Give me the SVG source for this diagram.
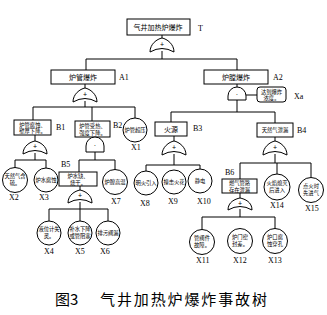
<svg xmlns="http://www.w3.org/2000/svg" width="327" height="315" viewBox="0 0 327 315">
<style>
.bx{fill:#fff;stroke:#000;stroke-width:1}
.g{fill:#fff;stroke:#000;stroke-width:1}
.c{fill:#fff;stroke:#000;stroke-width:1}
.t{font-family:"Noto Sans CJK SC","Noto Sans",sans-serif;font-size:7px;text-anchor:middle;fill:#000}
.s{font-family:"Noto Sans CJK SC","Noto Sans",sans-serif;font-size:5.3px;text-anchor:middle;fill:#000}
.l{font-family:"Liberation Serif",serif;font-size:8px;fill:#000}
.gs{font-family:"Liberation Sans",sans-serif;font-size:7px;text-anchor:middle;fill:#000}
.cap{font-family:"Noto Sans CJK SC",sans-serif;font-size:15px;fill:#000}
#conn line{stroke:#000;stroke-width:1}
</style>
<rect width="327" height="315" fill="#fff"/>
<g id="conn">
<line x1="162" y1="35" x2="162" y2="38"/>
<line x1="162" y1="51" x2="162" y2="59"/>
<line x1="86" y1="59" x2="237" y2="59"/>
<line x1="86" y1="59" x2="86" y2="70"/>
<line x1="237" y1="59" x2="237" y2="70"/>
<line x1="85" y1="84" x2="85" y2="88"/>
<line x1="85" y1="101" x2="85" y2="107"/>
<line x1="33" y1="107" x2="135" y2="107"/>
<line x1="33" y1="107" x2="33" y2="120"/>
<line x1="92" y1="107" x2="92" y2="121"/>
<line x1="135" y1="107" x2="135" y2="118"/>
<line x1="35" y1="135" x2="35" y2="141"/>
<line x1="35" y1="153" x2="35" y2="160"/>
<line x1="15" y1="160" x2="46" y2="160"/>
<line x1="15" y1="160" x2="15" y2="168"/>
<line x1="46" y1="160" x2="46" y2="168"/>
<line x1="95" y1="152" x2="95" y2="160"/>
<line x1="79" y1="160" x2="115" y2="160"/>
<line x1="79" y1="160" x2="79" y2="172"/>
<line x1="115" y1="160" x2="115" y2="170"/>
<line x1="80" y1="186" x2="80" y2="190"/>
<line x1="80" y1="202" x2="80" y2="209"/>
<line x1="49" y1="209" x2="108" y2="209"/>
<line x1="49" y1="209" x2="49" y2="221"/>
<line x1="80" y1="209" x2="80" y2="221"/>
<line x1="108" y1="209" x2="108" y2="221"/>
<line x1="237" y1="84" x2="237" y2="87"/>
<line x1="237" y1="100" x2="237" y2="112"/>
<line x1="246" y1="95" x2="257" y2="95"/>
<line x1="171" y1="112" x2="275" y2="112"/>
<line x1="171" y1="112" x2="171" y2="122"/>
<line x1="275" y1="112" x2="275" y2="123"/>
<line x1="174" y1="136" x2="174" y2="141"/>
<line x1="174" y1="154" x2="174" y2="165"/>
<line x1="146" y1="165" x2="200" y2="165"/>
<line x1="146" y1="165" x2="146" y2="171"/>
<line x1="200" y1="165" x2="200" y2="169"/>
<line x1="275" y1="137" x2="275" y2="141"/>
<line x1="275" y1="154" x2="275" y2="163"/>
<line x1="240" y1="163" x2="311" y2="163"/>
<line x1="240" y1="163" x2="240" y2="179"/>
<line x1="277" y1="163" x2="277" y2="174"/>
<line x1="311" y1="163" x2="311" y2="177"/>
<line x1="240" y1="193" x2="240" y2="198"/>
<line x1="240" y1="209" x2="240" y2="217"/>
<line x1="202" y1="217" x2="275" y2="217"/>
<line x1="202" y1="217" x2="202" y2="230"/>
<line x1="275" y1="217" x2="275" y2="229"/>
</g>
<g id="T"><rect class="bx" x="127" y="19" width="63" height="16"/><text class="t" x="158" y="30">气井加热炉爆炸</text><text class="l" x="198" y="31">T</text></g>
<g id="G0"><path class="g" d="M150,52 C150,44 157,39 162,38 C167,39 174,44 174,52 Q162,45 150,52 Z"/><text class="gs" x="162" y="47">+</text></g>
<g id="A1"><rect class="bx" x="51" y="70" width="64" height="14"/><text class="t" x="83" y="80">炉管爆炸</text><text class="l" x="119" y="80">A1</text></g>
<g id="GA1"><path class="g" d="M73,102 C73,94 80,89 85,88 C90,89 97,94 97,102 Q85,95 73,102 Z"/><text class="gs" x="85" y="97">+</text></g>
<g id="A2"><rect class="bx" x="204" y="70" width="64" height="14"/><text class="t" x="236" y="80">炉膛爆炸</text><text class="l" x="273" y="80">A2</text></g>
<g id="GA2"><path class="g" d="M228,100 L228,96 A9,9 0 0 1 246,96 L246,100 Z"/><text class="gs" x="237" y="97">·</text></g>
<g id="Xa"><rect class="bx" x="257" y="87" width="29" height="15" rx="3"/><text class="s" x="271.5" y="93.5">达到爆炸</text><text class="s" x="271.5" y="100">浓度。</text><text class="l" x="294" y="99">Xa</text></g>
<g id="B1"><rect class="bx" x="14" y="120" width="37" height="15"/><text class="s" x="32.5" y="126.5">炉管腐蚀、</text><text class="s" x="32.5" y="133">壁厚下降。</text><text class="l" x="56" y="130">B1</text></g>
<g id="GB1"><path class="g" d="M23,154 C23,146 30,142 35,141 C40,142 47,146 47,154 Q35,147 23,154 Z"/><text class="gs" x="35" y="149">+</text></g>
<g id="B2"><rect class="bx" x="75" y="121" width="35" height="16"/><text class="s" x="92.5" y="127.5">炉管受热、</text><text class="s" x="92.5" y="134.5">强度下降。</text><text class="l" x="113" y="128">B2</text></g>
<g id="GB2"><path class="g" d="M86,152 L86,146 A9,9 0 0 1 104,146 L104,152 Z"/><text class="gs" x="95" y="148">·</text></g>
<g id="X1"><circle class="c" cx="135" cy="130" r="12"/><text class="s" x="135" y="132">炉管超压</text><text class="l" x="131" y="150">X1</text></g>
<g id="X2"><circle class="c" cx="15" cy="180" r="12.5"/><text class="s" x="15" y="178">天然气含</text><text class="s" x="15" y="185">硫。</text><text class="l" x="9" y="200">X2</text></g>
<g id="X3"><circle class="c" cx="46" cy="180" r="12"/><text class="s" x="46" y="182">炉水腐蚀</text><text class="l" x="39" y="200">X3</text></g>
<g id="B5"><rect class="bx" x="59" y="172" width="38" height="14"/><text class="s" x="78" y="178">炉水缺、</text><text class="s" x="78" y="184.5">烧干。</text><text class="l" x="61" y="167">B5</text></g>
<g id="GB5"><path class="g" d="M68,203 C68,195 75,191 80,190 C85,191 92,195 92,203 Q80,196 68,203 Z"/><text class="gs" x="80" y="198">+</text></g>
<g id="X7"><circle class="c" cx="115" cy="182" r="12.5"/><text class="s" x="115" y="184">炉膛高温</text><text class="l" x="111" y="204">X7</text></g>
<g id="X4"><circle class="c" cx="49" cy="233" r="12"/><text class="s" x="49" y="231">液位计失</text><text class="s" x="49" y="238">灵。</text><text class="l" x="44" y="254">X4</text></g>
<g id="X5"><circle class="c" cx="80" cy="233" r="12"/><text class="s" x="80" y="231">补水下降</text><text class="s" x="80" y="238">或管阻塞</text><text class="l" x="75" y="254">X5</text></g>
<g id="X6"><circle class="c" cx="108" cy="233" r="12"/><text class="s" x="108" y="235">排污阀漏</text><text class="l" x="100" y="254">X6</text></g>
<g id="B3"><rect class="bx" x="155" y="122" width="32" height="14"/><text class="t" x="171" y="132">火源</text><text class="l" x="193" y="131">B3</text></g>
<g id="GB3"><path class="g" d="M162,155 C162,147 169,142 174,141 C179,142 186,147 186,155 Q174,148 162,155 Z"/><text class="gs" x="174" y="150">+</text></g>
<g id="X8"><circle class="c" cx="146" cy="183" r="12"/><text class="s" x="146" y="185">明火引入</text><text class="l" x="140" y="206">X8</text></g>
<g id="X9"><circle class="c" cx="174" cy="182" r="12"/><text class="s" x="174" y="184">撞击火花</text><text class="l" x="168" y="204">X9</text></g>
<g id="X10"><circle class="c" cx="200" cy="181" r="12"/><text class="s" x="200" y="183">静电</text><text class="l" x="197" y="204">X10</text></g>
<g id="B4"><rect class="bx" x="257" y="123" width="36" height="14"/><text class="s" x="275" y="132">天然气泄漏</text><text class="l" x="297" y="133">B4</text></g>
<g id="GB4"><path class="g" d="M263,155 C263,147 270,142 275,141 C280,142 287,147 287,155 Q275,148 263,155 Z"/><text class="gs" x="275" y="150">+</text></g>
<g id="B6"><rect class="bx" x="222" y="179" width="35" height="14"/><text class="s" x="239.5" y="185">燃气管路</text><text class="s" x="239.5" y="191.5">存在泄漏</text><text class="l" x="225" y="175">B6</text></g>
<g id="GB6"><path class="g" d="M228,210 C228,202 235,199 240,198 C245,199 252,202 252,210 Q240,203 228,210 Z"/><text class="gs" x="240" y="206">+</text></g>
<g id="X14"><circle class="c" cx="277" cy="187" r="13"/><text class="s" x="277" y="185">火焰熄灭</text><text class="s" x="277" y="192">后进入</text><text class="l" x="270" y="208">X14</text></g>
<g id="X15"><circle class="c" cx="311" cy="190" r="12.5"/><text class="s" x="311" y="188">点火时</text><text class="s" x="311" y="195">先进气</text><text class="l" x="305" y="211">X15</text></g>
<g id="X11"><circle class="c" cx="202" cy="242" r="12.5"/><text class="s" x="202" y="240">管阀件</text><text class="s" x="202" y="247">故障。</text><text class="l" x="196" y="263">X11</text></g>
<g id="X12"><circle class="c" cx="240" cy="241" r="12.5"/><text class="s" x="240" y="239">炉门密</text><text class="s" x="240" y="246">封差。</text><text class="l" x="233" y="263">X12</text></g>
<g id="X13"><circle class="c" cx="275" cy="241" r="12.5"/><text class="s" x="275" y="239">炉口腐</text><text class="s" x="275" y="246">蚀穿孔</text><text class="l" x="268" y="263">X13</text></g>
<g id="caption"><text class="cap" x="55" y="305">图3</text><text class="cap" x="100" y="305" textLength="167" lengthAdjust="spacing">气井加热炉爆炸事故树</text></g>
</svg>
